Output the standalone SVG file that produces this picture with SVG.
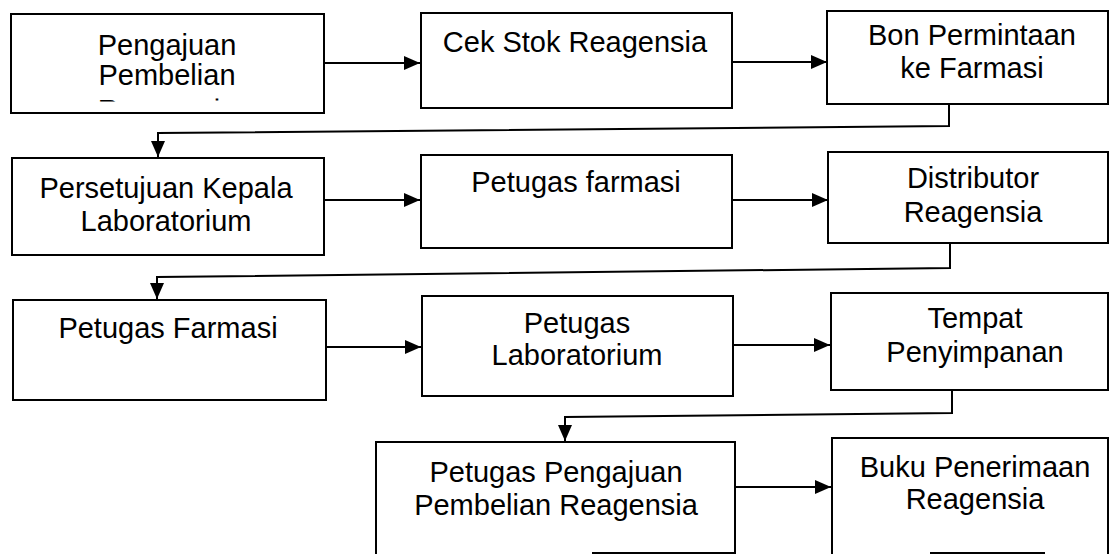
<svg xmlns="http://www.w3.org/2000/svg" width="1111" height="554" viewBox="0 0 1111 554">
  <style>
    .box { fill: #ffffff; stroke: #000000; stroke-width: 2; }
    .edge { fill: none; stroke: #000000; stroke-width: 2; }
    .lbl { font-family: "Liberation Sans", Arial, sans-serif; font-size: 29px; fill: #000000; text-anchor: middle; }
    .link { fill: none; stroke: #000000; stroke-width: 2; }
  </style>
  <defs>
    <marker id="head" markerUnits="userSpaceOnUse" markerWidth="16" markerHeight="14" refX="16" refY="7" orient="auto">
      <path d="M0,0 L16,7 L0,14 Z" fill="#000000"/>
    </marker>
    <!-- third line of the first box runs past its frame; only its top edge shows -->
    <clipPath id="cut1">
      <rect x="11" y="98.5" width="313" height="3"/>
    </clipPath>
  </defs>

  <rect width="1111" height="554" fill="#ffffff"/>

  <g id="connectors">
    <path class="link" marker-end="url(#head)" d="M324,63 H420"/>
    <path class="link" marker-end="url(#head)" d="M732,62 H827"/>
    <path class="link" marker-end="url(#head)" d="M949,104 V126 L158,133 V157"/>
    <path class="link" marker-end="url(#head)" d="M324,200 H420"/>
    <path class="link" marker-end="url(#head)" d="M732,200 H828"/>
    <path class="link" marker-end="url(#head)" d="M950,243 V268 L157,277 V299"/>
    <path class="link" marker-end="url(#head)" d="M326,347 H421"/>
    <path class="link" marker-end="url(#head)" d="M733,345 H830"/>
    <path class="link" marker-end="url(#head)" d="M952,390 V413 L565,417 V441"/>
    <path class="link" marker-end="url(#head)" d="M735,487 H831"/>
  </g>

  <g id="pengajuan-pembelian">
    <rect class="box" x="11" y="14" width="313" height="99"/>
    <text class="lbl" x="167" y="55">Pengajuan</text>
    <text class="lbl" x="167" y="85">Pembelian</text>
    <text class="lbl" x="167" y="120" clip-path="url(#cut1)">Reagensia</text>
  </g>

  <g id="cek-stok">
    <rect class="box" x="421" y="13" width="311" height="95"/>
    <text class="lbl" x="575" y="52">Cek Stok Reagensia</text>
  </g>

  <g id="bon-permintaan">
    <rect class="box" x="827" y="11" width="281" height="93"/>
    <text class="lbl" x="972" y="45">Bon Permintaan</text>
    <text class="lbl" x="972" y="78">ke Farmasi</text>
  </g>

  <g id="persetujuan-kepala">
    <rect class="box" x="12" y="158" width="312" height="97"/>
    <text class="lbl" x="166" y="198">Persetujuan Kepala</text>
    <text class="lbl" x="166" y="231">Laboratorium</text>
  </g>

  <g id="petugas-farmasi-1">
    <rect class="box" x="421" y="155" width="311" height="93"/>
    <text class="lbl" x="576" y="192">Petugas farmasi</text>
  </g>

  <g id="distributor">
    <rect class="box" x="828" y="152" width="280" height="91"/>
    <text class="lbl" x="973" y="188">Distributor</text>
    <text class="lbl" x="973" y="222">Reagensia</text>
  </g>

  <g id="petugas-farmasi-2">
    <rect class="box" x="13" y="300" width="313" height="100"/>
    <text class="lbl" x="168" y="338">Petugas Farmasi</text>
  </g>

  <g id="petugas-lab">
    <rect class="box" x="422" y="296" width="311" height="100"/>
    <text class="lbl" x="577" y="333">Petugas</text>
    <text class="lbl" x="577" y="365">Laboratorium</text>
  </g>

  <g id="tempat-penyimpanan">
    <rect class="box" x="831" y="293" width="277" height="97"/>
    <text class="lbl" x="975" y="328">Tempat</text>
    <text class="lbl" x="975" y="362">Penyimpanan</text>
  </g>

  <!-- the last row runs off the lower edge; only pieces of the bottom rules show -->
  <g id="petugas-pengajuan">
    <path class="edge" d="M376,556 V442 H735 V556"/>
    <path class="edge" d="M592,553 H735"/>
    <text class="lbl" x="556" y="482">Petugas Pengajuan</text>
    <text class="lbl" x="556" y="515">Pembelian Reagensia</text>
  </g>

  <g id="buku-penerimaan">
    <path class="edge" d="M832,556 V438 H1108 V556"/>
    <path class="edge" d="M930,553 H1045"/>
    <text class="lbl" x="975" y="477">Buku Penerimaan</text>
    <text class="lbl" x="975" y="509">Reagensia</text>
  </g>
</svg>
